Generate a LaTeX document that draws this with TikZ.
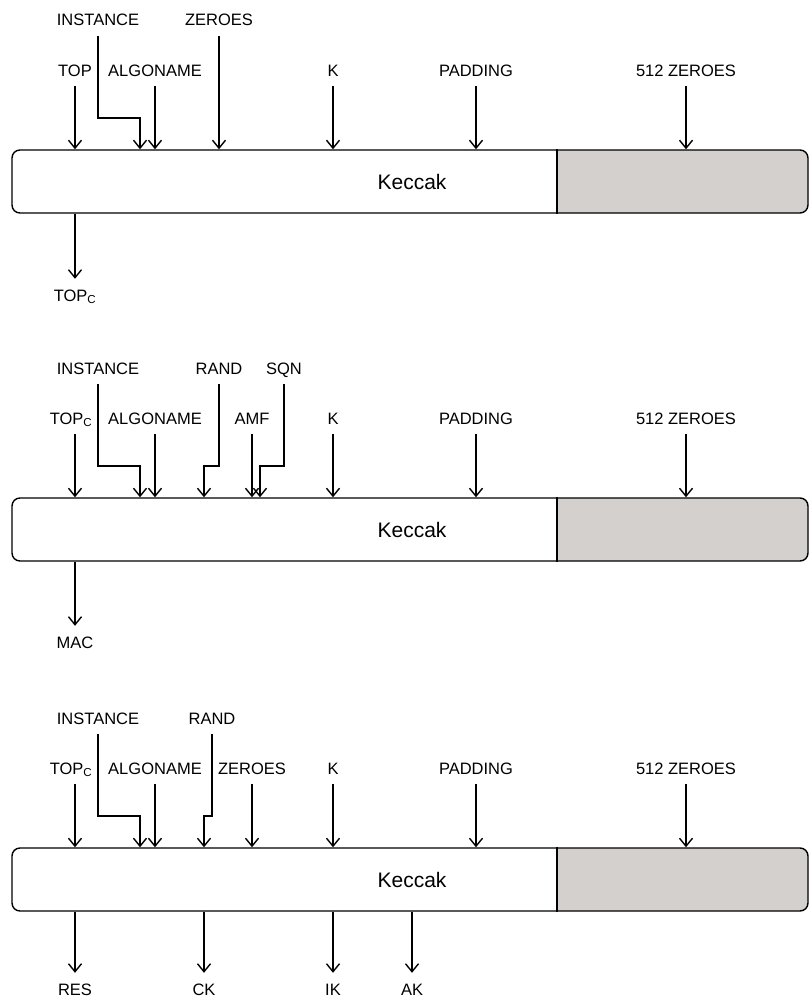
\documentclass[tikz,border=0pt]{standalone}
\usepackage{fontspec}
\setmainfont{Liberation Sans}
\usepackage{xcolor}
\usetikzlibrary{arrows.meta}
\definecolor{padgrey}{RGB}{212,208,206}

\begin{document}
\begin{tikzpicture}[x=1pt, y=-1pt,
    lbl/.style={inner xsep=1pt, inner ysep=10pt, text height=12pt, text depth=0pt, font=\fontsize{16.5}{19}\selectfont},
    arr/.style={-{Straight Barb[length=8pt,width=13pt]}, line width=1.4pt},
    keccak/.style={draw, line width=1.4pt, rounded corners=8pt, minimum width=796pt, minimum height=63pt, inner sep=0pt}]
  \useasboundingbox (0,0) rectangle (810,998);

  % the three hash blocks, \t is the top edge
  \foreach \t [count=\i] in {150,498,848}{
    \begin{scope}
      \clip (557,\t-5) rectangle (812,\t+70);
      \fill[padgrey, rounded corners=8pt] (12,\t) rectangle (808,\t+63);
    \end{scope}
    \node[keccak] (b\i) at (410,\t+31.5) {};
    \draw[line width=1.4pt] (b\i.north -| 557,0) -- (b\i.south -| 557,0);
    \node[font=\fontsize{21}{24}\selectfont] (kec\i) at (412,\t+32) {Keccak};

    \node[lbl] (inst\i) at (98,\t-130) {INSTANCE};
    \node[lbl] (algo\i) at (155,\t-80) {ALGONAME};
    \node[lbl] (k\i) at (333,\t-80) {K};
    \node[lbl] (pad\i) at (476,\t-80) {PADDING};
    \node[lbl] (zer\i) at (686,\t-80) {512 ZEROES};
    \coordinate (ibend\i) at (140,\t-32);

    \draw[arr] (inst\i.south) |- (ibend\i) -- (ibend\i |- b\i.north);
    \draw[arr] (algo\i.south) -- (algo\i.south |- b\i.north);
    \draw[arr] (k\i.south) -- (k\i.south |- b\i.north);
    \draw[arr] (pad\i.south) -- (pad\i.south |- b\i.north);
    \draw[arr] (zer\i.south) -- (zer\i.south |- b\i.north);
  }

  % block 1
  \node[lbl] (top1) at (75,70) {TOP};
  \node[lbl] (zz1) at (219,20) {ZEROES};
  \node[lbl] (topc1) at (75,295) {TOP\textsubscript{C}};
  \draw[arr] (top1.south) -- (top1.south |- b1.north);
  \draw[arr] (zz1.south) -- (zz1.south |- b1.north);
  \draw[arr] (topc1.north |- b1.south) -- (topc1.north);

  % block 2
  \node[lbl] (topc2) at (71,418) {TOP\textsubscript{C}};
  \node[lbl] (rand2) at (219,368) {RAND};
  \node[lbl] (sqn2) at (284,368) {SQN};
  \node[lbl] (amf2) at (252,418) {AMF};
  \node[lbl] (mac2) at (75,642) {MAC};
  \coordinate (rbend2) at (204,466);
  \coordinate (sbend2) at (260,466);
  \draw[arr] ([xshift=4pt]topc2.south) -- ([xshift=4pt]topc2.south |- b2.north);
  \draw[arr] (rand2.south) |- (rbend2) -- (rbend2 |- b2.north);
  \draw[arr] (amf2.south) -- (amf2.south |- b2.north);
  \draw[arr] (sqn2.south) |- (sbend2) -- (sbend2 |- b2.north);
  \draw[arr] (mac2.north |- b2.south) -- (mac2.north);

  % block 3
  \node[lbl] (topc3) at (71,768) {TOP\textsubscript{C}};
  \node[lbl] (rand3) at (212,718) {RAND};
  \node[lbl] (zz3) at (252,768) {ZEROES};
  \coordinate (rbend3) at (204,816);
  \draw[arr] ([xshift=4pt]topc3.south) -- ([xshift=4pt]topc3.south |- b3.north);
  \draw[arr] (rand3.south) |- (rbend3) -- (rbend3 |- b3.north);
  \draw[arr] (zz3.south) -- (zz3.south |- b3.north);

  \node[lbl] (res3) at (75,989) {RES};
  \node[lbl] (ck3) at (204,989) {CK};
  \node[lbl] (ik3) at (333,989) {IK};
  \node[lbl] (ak3) at (412,989) {AK};
  \foreach \o in {res3,ck3,ik3,ak3}
    \draw[arr] (\o.north |- b3.south) -- (\o.north);
\end{tikzpicture}
\end{document}
